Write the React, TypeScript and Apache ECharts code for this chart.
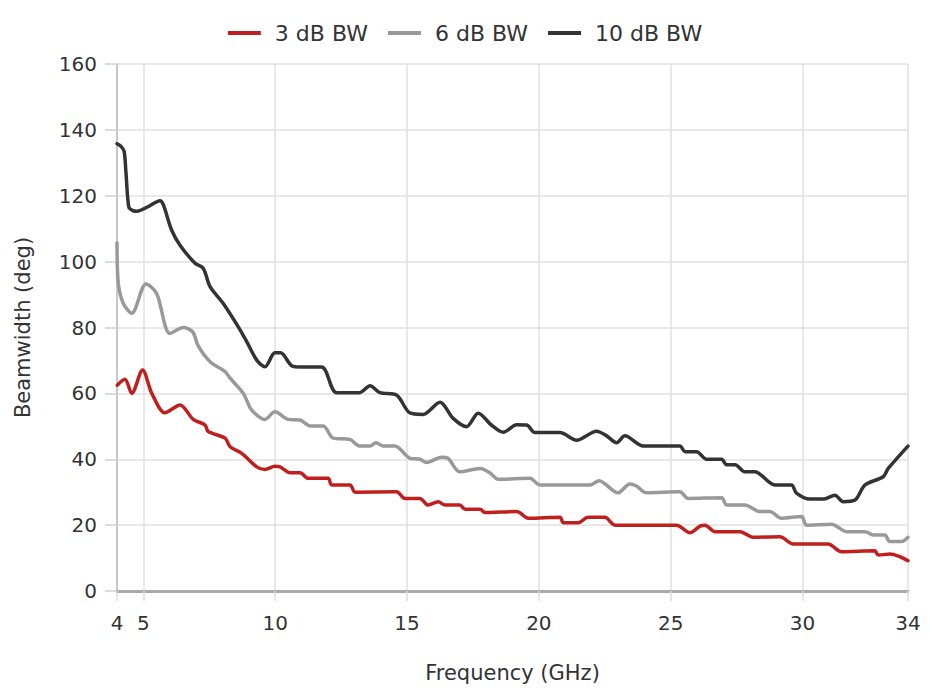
import React, { useEffect, useRef } from "react";
import * as echarts from "echarts";

const legendNames = ["3 dB BW", "6 dB BW", "10 dB BW"];
const xTicks = [4, 5, 10, 15, 20, 25, 30, 34];

const bw3: [number, number][] = [
  [4.01, 62.5], [4.3, 64.3], [4.56, 60], [4.97, 67.1], [5.32, 60], [5.82, 54.1], [6.39, 56.5],
  [6.89, 52.1], [7.34, 50.4], [7.46, 48.4], [8.1, 46.4], [8.29, 43.8], [8.73, 41.8], [9.3, 37.7],
  [9.61, 36.9], [9.99, 37.9], [10.18, 37.7], [10.56, 35.9], [10.94, 35.9], [11.25, 34.2],
  [12.01, 34.2], [12.14, 32.2], [12.84, 32.2], [13.03, 30], [14.6, 30.1], [14.92, 28.1],
  [15.49, 28.1], [15.8, 26.1], [16.18, 27.1], [16.44, 26.1], [17.0, 26.1], [17.2, 24.8],
  [17.77, 24.8], [17.96, 23.8], [19.16, 24.1], [19.6, 22.1], [20.8, 22.4], [20.93, 20.7],
  [21.49, 20.7], [21.87, 22.4], [22.5, 22.4], [22.89, 20], [25.22, 20], [25.73, 17.7],
  [26.11, 19.7], [26.3, 20], [26.68, 18], [27.63, 18], [28.13, 16.3], [29.14, 16.5],
  [29.65, 14.3], [30.97, 14.3], [31.48, 11.9], [32.74, 12.2], [32.87, 10.9], [33.31, 11.2],
  [33.69, 10.4], [34, 9.2],
];

const bw6: [number, number][] = [
  [4.0, 105.7], [4.05, 93.4], [4.24, 87.3], [4.56, 84.3], [5.1, 93.2], [5.5, 90.4], [6.01, 78.2],
  [6.51, 80], [6.87, 78.7], [7.08, 74.4], [7.53, 69.6], [8.1, 66.6], [8.29, 64.6], [8.79, 60],
  [9.11, 54.9], [9.61, 52.1], [9.99, 54.4], [10.5, 52.1], [10.94, 51.9], [11.32, 50.1],
  [11.82, 50.1], [12.2, 46.4], [12.84, 46], [13.2, 44], [13.6, 44], [13.82, 45], [14.1, 44],
  [14.54, 44], [15.11, 40.3], [15.49, 40], [15.74, 39], [16.31, 40.6], [16.55, 40.3],
  [17.0, 36.2], [17.77, 37.2], [18.14, 35.9], [18.46, 33.9], [19.66, 34.2], [20.04, 32.2],
  [21.94, 32.2], [22.28, 33.5], [23.0, 29.8], [23.45, 32.5], [23.7, 31.9], [24.08, 29.8],
  [25.35, 30.1], [25.66, 28.1], [26.93, 28.3], [27.12, 26.1], [27.81, 26.1], [28.38, 24.1],
  [28.76, 24.1], [29.2, 22.1], [29.96, 22.6], [30.15, 20], [31.1, 20.3], [31.67, 18],
  [32.37, 18], [32.68, 17], [33.12, 17], [33.31, 15], [33.76, 15], [34.0, 16.3],
];

const bw10: [number, number][] = [
  [4.0, 135.8], [4.15, 135], [4.27, 133.5], [4.34, 127], [4.45, 116.5], [4.6, 115.5], [4.75, 115.3],
  [5.2, 116.8], [5.63, 118.5], [5.76, 117.2], [6.07, 109.6], [6.39, 105], [6.96, 99.5],
  [7.27, 98], [7.53, 92.4], [8.03, 87.3], [8.6, 80.2], [8.92, 75.7], [9.3, 70.1], [9.61, 68.1],
  [9.99, 72.3], [10.2, 72.3], [10.64, 68.3], [10.94, 68], [11.76, 68], [12.33, 60.2],
  [13.2, 60.2], [13.6, 62.3], [13.97, 60.2], [14.6, 59.5], [15.1, 54.1], [15.6, 53.6],
  [16.25, 57.3], [16.75, 52.4], [17.26, 49.9], [17.7, 54], [18.2, 50.4], [18.65, 48.2],
  [19.16, 50.5], [19.54, 50.4], [19.85, 48.1], [20.8, 48.1], [21.43, 45.8], [22.19, 48.5],
  [22.57, 47.1], [22.95, 45], [23.26, 47.1], [23.96, 44], [25.35, 44], [25.54, 42.3],
  [25.98, 42.3], [26.36, 40], [26.93, 40], [27.12, 38.3], [27.44, 38.3], [27.81, 36.2],
  [28.19, 36.2], [28.95, 32.2], [29.58, 32.2], [29.77, 29.7], [30.28, 27.9], [30.78, 27.9],
  [31.23, 29.1], [31.54, 27.1], [31.99, 27.6], [32.37, 32.2], [33.06, 34.7], [33.25, 37.2],
  [34.0, 44],
];

const colors = ["#c0201d", "#999999", "#333333"];
const FONT = "DejaVu Sans";

export default function App() {
  const ref = useRef<HTMLDivElement>(null);
  useEffect(() => {
    document.body.style.margin = "0";
    const chart = echarts.init(ref.current!, undefined, { renderer: "svg" });
    const datasets = [bw3, bw6, bw10];
    chart.setOption({
      animation: false,
      color: colors,
      textStyle: { fontFamily: FONT, color: "#333" },
      legend: {
        top: 17,
        left: "center",
        icon: "rect",
        itemWidth: 33,
        itemHeight: 4,
        itemGap: 20,
        textStyle: { fontFamily: FONT, fontSize: 22, color: "#333", padding: [0, 0, 0, 9] },
        data: legendNames,
      },
      grid: { left: 117, right: 22, top: 64, bottom: 105, containLabel: false },
      xAxis: {
        type: "value",
        min: 4,
        max: 34,
        name: "Frequency (GHz)",
        nameLocation: "middle",
        nameGap: 71,
        nameTextStyle: { fontFamily: FONT, fontSize: 21, color: "#333" },
        axisLine: { show: true, onZero: false, lineStyle: { color: "#aaaaaa", width: 3 } },
        axisTick: { show: true, length: 10, customValues: xTicks, lineStyle: { color: "#dddddd", width: 1.5 } },
        axisLabel: { customValues: xTicks, margin: 22, fontSize: 20, color: "#333", fontFamily: FONT },
        splitLine: { show: true, lineStyle: { color: "#e0e0e0", width: 1.5 } },
      },
      yAxis: {
        type: "value",
        min: 0,
        max: 160,
        interval: 20,
        name: "Beamwidth (deg)",
        nameLocation: "middle",
        nameGap: 84,
        nameRotate: 90,
        nameTextStyle: { fontFamily: FONT, fontSize: 21, color: "#333" },
        axisLine: { show: true, lineStyle: { color: "#c8c8c8", width: 2 } },
        axisTick: { show: true, length: 12, lineStyle: { color: "#d0d0d0", width: 1.5 } },
        axisLabel: { margin: 20, fontSize: 20, color: "#333", fontFamily: FONT },
        splitLine: { show: true, lineStyle: { color: "#e0e0e0", width: 1.5 } },
      },
      series: legendNames.map((n, i) => ({
        name: n,
        type: "line",
        data: datasets[i],
        smooth: 0.3,
        showSymbol: false,
        symbol: "none",
        lineStyle: { width: 3.5, color: colors[i], join: "round", cap: "round" },
        z: 5 - i,
      })),
    });
    return () => chart.dispose();
  }, []);
  return <div ref={ref} style={{ width: 930, height: 696 }} />;
}
